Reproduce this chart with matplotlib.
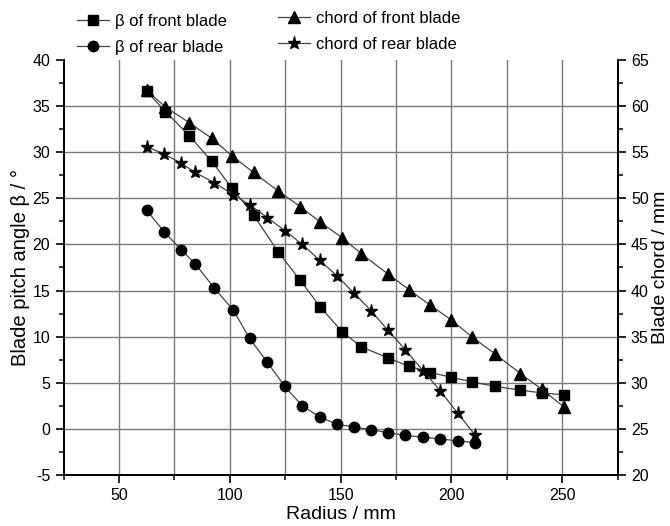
import numpy as np
import matplotlib
matplotlib.use("Agg")
from matplotlib import pyplot as plt
from matplotlib.lines import Line2D

plt.rcParams['font.family'] = ['Liberation Sans', 'DejaVu Sans']
plt.rcParams['axes.unicode_minus'] = False

# beta of front blade (left axis)
r_front = [62.5, 71.0, 81.7, 91.9, 101.0, 110.7, 121.8, 131.8, 140.9, 150.8,
           159.3, 171.3, 180.8, 190.5, 200.0, 209.1, 219.8, 231.1, 240.7, 250.6]
beta_front = [36.6, 34.4, 31.8, 29.0, 26.1, 23.2, 19.2, 16.1, 13.2, 10.5,
              8.9, 7.7, 6.8, 6.1, 5.6, 5.1, 4.6, 4.2, 3.9, 3.7]
# chord of front blade (right axis)
chord_front = [61.7, 59.9, 58.2, 56.5, 54.6, 52.8, 50.8, 49.1, 47.4, 45.7,
               44.0, 41.8, 40.1, 38.4, 36.8, 35.0, 33.1, 31.0, 29.3, 27.4]

# rear blade
r_rear = [62.5, 70.3, 78.1, 84.4, 92.9, 101.5, 109.0, 117.0, 124.8, 132.7,
          140.5, 148.3, 156.1, 163.8, 171.3, 179.1, 187.2, 195.0, 202.8, 210.8]
beta_rear = [23.7, 21.4, 19.4, 17.9, 15.3, 12.9, 9.8, 7.2, 4.6, 2.5,
             1.3, 0.5, 0.2, -0.1, -0.4, -0.7, -0.9, -1.1, -1.3, -1.5]
chord_rear = [55.6, 54.8, 53.8, 52.8, 51.7, 50.4, 49.3, 47.9, 46.5, 45.0,
              43.3, 41.6, 39.7, 37.8, 35.7, 33.6, 31.3, 29.1, 26.7, 24.3]

fig = plt.figure(figsize=(6.7, 5.26), dpi=100)
ax = fig.add_axes([0.0948, 0.097, 0.922 - 0.0948, 0.886 - 0.097])
ax2 = ax.twinx()

lc = '#444444'
grid_c = '#7a7a7a'

ax.set_xlim(25, 275)
ax.set_ylim(-5, 40)
ax2.set_ylim(20, 65)
# grid lines
for xv in range(50, 275, 25):
    ax.axvline(xv, color=grid_c, lw=1.0, zorder=0)
for yv in range(0, 40, 5):
    ax.axhline(yv, color=grid_c, lw=1.0, zorder=0)

style = dict(color=lc, lw=0.9, mfc='black', mec='black')
ax.plot(r_front, beta_front, marker='s', ms=6.5, **style)
ax.plot(r_rear, beta_rear, marker='o', ms=7.5, **style)
ax2.plot(r_front, chord_front, marker='^', ms=8.5, **style)
ax2.plot(r_rear, chord_rear, marker='*', ms=9.5, **style)

ax.set_xticks([50, 100, 150, 200, 250])
ax.set_xticks(np.arange(25, 276, 25), minor=True)
ax.set_yticks(np.arange(-5, 41, 5))
ax.set_yticks(np.arange(-5, 41, 2.5), minor=True)
ax2.set_yticks(np.arange(20, 66, 5))
ax2.set_yticks(np.arange(20, 66, 2.5), minor=True)

for a in (ax, ax2):
    a.spines['top'].set_visible(False)
    for s in a.spines.values():
        s.set_linewidth(1.3)
    a.tick_params(which='major', direction='out', length=6, width=1.2,
                  labelsize=11.5, colors='black')
    a.tick_params(which='minor', direction='out', length=3.5, width=1.1)

ax.set_xlabel('Radius / mm', fontsize=14, labelpad=2)
ax.set_ylabel('Blade pitch angle β / °', fontsize=14.5, labelpad=2)
ax2.set_ylabel('Blade chord / mm', fontsize=14, labelpad=2)

# legend, two columns above the plot
h_sq = Line2D([], [], marker='s', ms=6.5, **style)
h_ci = Line2D([], [], marker='o', ms=7.5, **style)
h_tr = Line2D([], [], marker='^', ms=8.5, **style)
h_st = Line2D([], [], marker='*', ms=9.5, **style)
leg_kw = dict(loc='upper left', frameon=False, fontsize=12,
              handlelength=1.9, handletextpad=0.35, labelspacing=0.68,
              borderpad=0.2)
fig.legend([h_sq, h_ci], ['β of front blade', 'β of rear blade'],
           bbox_to_anchor=(0.0976, 0.996), **leg_kw)
fig.legend([h_tr, h_st], ['chord of front blade', 'chord of rear blade'],
           bbox_to_anchor=(0.3976, 1.002), **leg_kw)

fig.savefig('out.png', dpi=100)
